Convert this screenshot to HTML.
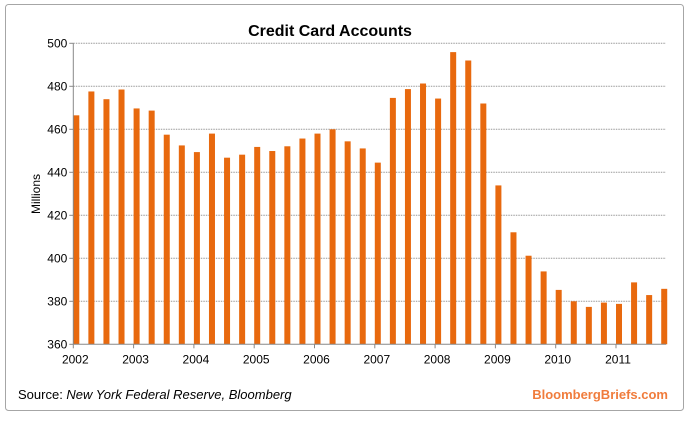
<!DOCTYPE html>
<html><head><meta charset="utf-8">
<style>
body{margin:0;width:689px;height:418px;background:#fff;overflow:hidden;font-family:"Liberation Sans",sans-serif}
</style></head>
<body>
<svg width="689" height="418" viewBox="0 0 689 418" xmlns="http://www.w3.org/2000/svg">
<rect x="5.5" y="4.5" width="678" height="406" rx="3" fill="#fff" stroke="#a6a6a6"/>
<text x="330" y="36" text-anchor="middle" font-size="16" font-weight="bold" fill="#000">Credit Card Accounts</text>
<text transform="translate(40,194) rotate(-90)" text-anchor="middle" font-size="12" fill="#000">Millions</text>
<g id="grid"></g><g id="bars"></g><g id="axes"></g>
<text x="18" y="399" font-size="13" fill="#000">Source: <tspan font-style="italic">New York Federal Reserve, Bloomberg</tspan></text>
<text x="668" y="399" text-anchor="end" font-size="13" font-weight="bold" fill="#f07c3c">BloombergBriefs.com</text>
</svg>
<script>
const yTicks=[360,380,400,420,440,460,480,500];
const years=["2002","2003","2004","2005","2006","2007","2008","2009","2010","2011"];
const values=[466.5,477.6,474,478.5,469.7,468.7,457.5,452.5,449.4,458,446.8,448.2,451.8,449.9,452.1,455.7,458,460,454.4,451.1,444.5,474.6,478.7,481.3,474.3,495.9,492,472,433.9,412.1,401.2,393.9,385.3,380,377.4,379.4,378.8,388.8,382.9,385.8];
const NS="http://www.w3.org/2000/svg";
const pL=73.3,pR=666,pT=43.3,pB=344.3,yMin=360,yMax=500;
const yearW=60.3,step=yearW/4;
function yS(v){return pB-(v-yMin)/(yMax-yMin)*(pB-pT);}
function xq(i){return pL+3+i*step;}
function xy(j){return pL+j*yearW;}
function el(t,a,p){const e=document.createElementNS(NS,t);for(const k in a)e.setAttribute(k,a[k]);document.getElementById(p).appendChild(e);return e;}
yTicks.forEach(v=>{
  if(v>yMin){const g=el('line',{x1:pL,x2:pR,y1:yS(v),y2:yS(v),stroke:'#999','stroke-dasharray':'1.5 1','stroke-width':1},'grid');
  
  }
  const t=el('text',{x:pL-6,y:yS(v)+4,'text-anchor':'end','font-size':12,fill:'#000'},'axes');t.textContent=v;
  
  
  const tk=el('line',{x1:pL-4,x2:pL,y1:yS(v),y2:yS(v),stroke:'#888'},'axes');
  
  
});
values.forEach((v,i)=>{
  const r=el('rect',{x:xq(i)-3,y:yS(v),width:6,height:pB-yS(v),fill:'#e8690e'},'bars');
  
  
});
const ax=el('line',{x1:pL,x2:pL,y1:pT,y2:pB,stroke:'#888'},'axes');


const bx=el('line',{x1:pL,x2:pR,y1:pB,y2:pB,stroke:'#888'},'axes');


years.forEach((yr,j)=>{
  const tk=el('line',{x1:xy(j),x2:xy(j),y1:pB,y2:pB+4,stroke:'#888'},'axes');
  
  
  const t=el('text',{x:xy(j)+2,y:pB+19,'text-anchor':'middle','font-size':12,fill:'#000'},'axes');t.textContent=yr;
  
  
});
</script>
</body></html>
